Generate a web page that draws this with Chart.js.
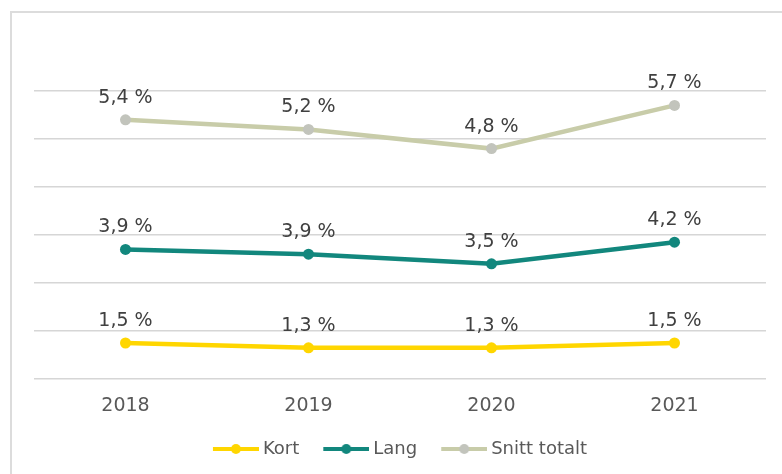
<!DOCTYPE html>
<html>
<head>
<meta charset="utf-8">
<script src="https://cdn.jsdelivr.net/npm/chart.js@4/dist/chart.umd.min.js"></script>
<style>
  html, body { margin: 0; padding: 0; background: #fff; }
  #frame { position: absolute; left: 10px; top: 11px; width: 772px; height: 463px;
           border-left: 2px solid #dcdcdc; border-top: 2px solid #dcdcdc; }
  #wrap { position: absolute; left: 0; top: 0; width: 782px; height: 474px; }
</style>
</head>
<body>
<div id="frame"></div>
<div id="wrap"><canvas id="myChart" width="782" height="474"></canvas></div>
<script>
// values (per cent)
var years = ['2018', '2019', '2020', '2021'];
var kort = [1.5, 1.3, 1.3, 1.5];
var lang = [3.9, 3.9, 3.5, 4.2];
var snittTotalt = [5.4, 5.2, 4.8, 5.7];

var seriesNames = ['Kort', 'Lang', 'Snitt totalt'];
var seriesColors = ['#ffd600', '#12877d', '#c8cca9'];
var pointColors = ['#ffd600', '#12877d', '#c2c4bc'];

Chart.defaults.font.family = '"DejaVu Sans", Verdana, sans-serif';

// legend marker: line with a dot in the middle
function legendMarker(color, dot) {
    var c = document.createElement('canvas');
    c.width = 51; c.height = 12;
    var g = c.getContext('2d');
    g.strokeStyle = color;
    g.lineWidth = 4;
    g.beginPath(); g.moveTo(5, 6); g.lineTo(51, 6); g.stroke();
    g.fillStyle = dot;
    g.beginPath(); g.arc(28, 6, 5, 0, Math.PI * 2); g.fill();
    return c;
}

// value labels above each point
var valueLabels = {
    id: 'valueLabels',
    afterDatasetsDraw: function (chart) {
        var ctx = chart.ctx;
        ctx.save();
        ctx.font = '19px "DejaVu Sans", Verdana, sans-serif';
        ctx.fillStyle = '#404040';
        ctx.textAlign = 'center';
        ctx.textBaseline = 'alphabetic';
        chart.data.datasets.forEach(function (ds, i) {
            chart.getDatasetMeta(i).data.forEach(function (pt, j) {
                var txt = ds.data[j].toFixed(1).replace('.', ',') + ' %';
                ctx.fillText(txt, pt.x, pt.y - 17);
            });
        });
        ctx.restore();
    }
};

function makeDataset(i, values) {
    return {
        label: seriesNames[i],
        data: values,
        borderColor: seriesColors[i],
        backgroundColor: pointColors[i],
        pointBackgroundColor: pointColors[i],
        pointBorderWidth: 0,
        pointRadius: 5.5,
        borderWidth: 4.5,
        tension: 0,
        fill: false
    };
}

var ctx = document.getElementById('myChart').getContext('2d');
var myChart = new Chart(ctx, {
    type: 'line',
    data: {
        labels: years,
        datasets: [makeDataset(0, kort), makeDataset(1, lang), makeDataset(2, snittTotalt)]
    },
    options: {
        responsive: false,
        animation: false,
        layout: { padding: { left: 34, right: 16, top: 91, bottom: 6 } },
        scales: {
            x: {
                offset: true,
                grid: { display: false, drawTicks: false },
                border: { display: false },
                ticks: { color: '#595959', font: { size: 19 }, padding: 16 },
                afterFit: function (scale) { scale.height = 37; }
            },
            y: {
                stacked: true,
                min: 0,
                max: 12,
                ticks: { display: false, stepSize: 2 },
                border: { display: false },
                grid: { color: '#d6d6d6', lineWidth: 1.5, drawTicks: false }
            }
        },
        plugins: {
            tooltip: { enabled: false },
            legend: {
                position: 'bottom',
                labels: {
                    color: '#595959',
                    font: { size: 18 },
                    padding: 24,
                    usePointStyle: true,
                    pointStyleWidth: 41,
                    boxHeight: 18,
                    generateLabels: function (chart) {
                        var items = Chart.defaults.plugins.legend.labels.generateLabels(chart);
                        items.forEach(function (it, i) {
                            it.pointStyle = legendMarker(seriesColors[i], pointColors[i]);
                        });
                        return items;
                    }
                }
            }
        }
    },
    plugins: [valueLabels]
});
</script>
</body>
</html>
